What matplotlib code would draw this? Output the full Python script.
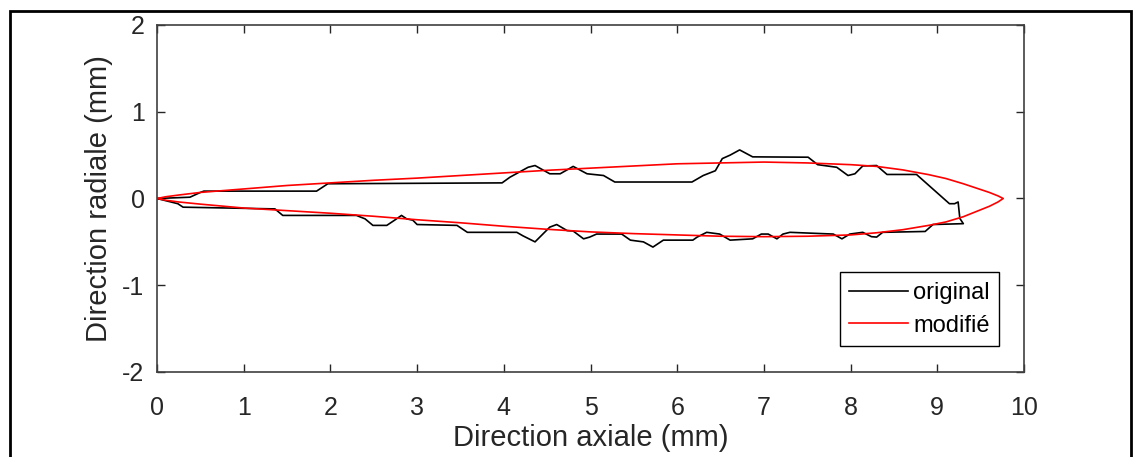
import matplotlib
matplotlib.use('Agg')
import matplotlib.pyplot as plt
from matplotlib.patches import Rectangle

plt.rcParams['font.family'] = ['Liberation Sans', 'DejaVu Sans']
plt.rcParams['axes.unicode_minus'] = False

# profil original (mesuré) : extrados de 0 vers la pointe, puis intrados retour
x_orig_haut = [0, 0.38, 0.50, 0.54, 1.84, 1.97, 3.98, 4.07, 4.28, 4.36, 4.53, 4.65,
               4.80, 4.96, 5.15, 5.28, 6.17, 6.30, 6.44, 6.52, 6.61, 6.72, 6.87,
               7.51, 7.62, 7.84, 7.97, 8.05, 8.14, 8.30, 8.42, 8.76, 9.14, 9.20,
               9.24, 9.26, 9.30]
y_orig_haut = [0, 0.015, 0.07, 0.085, 0.085, 0.17, 0.18, 0.245, 0.36, 0.38, 0.285, 0.285,
               0.37, 0.285, 0.265, 0.19, 0.19, 0.265, 0.32, 0.46, 0.50, 0.56, 0.48,
               0.476, 0.39, 0.36, 0.265, 0.285, 0.375, 0.38, 0.277, 0.277, -0.06, -0.06,
               -0.04, -0.23, -0.29]
x_orig_bas = [8.95, 8.86, 8.37, 8.30, 8.24, 8.14, 7.99, 7.90, 7.80, 7.30, 7.22, 7.15,
              7.05, 6.97, 6.87, 6.61, 6.49, 6.34, 6.23, 6.18, 5.84, 5.72, 5.61, 5.46,
              5.36, 5.07, 4.99, 4.92, 4.80, 4.73, 4.61, 4.53, 4.36, 4.22, 4.15, 3.58,
              3.46, 3.00, 2.95, 2.88, 2.82, 2.74, 2.65, 2.49, 2.40, 2.30, 1.45, 1.36,
              0.30, 0.24, 0]
y_orig_bas = [-0.30, -0.38, -0.39, -0.445, -0.44, -0.39, -0.41, -0.465, -0.41, -0.39, -0.41, -0.465,
              -0.41, -0.41, -0.465, -0.48, -0.41, -0.39, -0.445, -0.48, -0.48, -0.56, -0.50, -0.48,
              -0.41, -0.41, -0.445, -0.465, -0.375, -0.37, -0.30, -0.33, -0.50, -0.43, -0.39, -0.39,
              -0.31, -0.30, -0.25, -0.235, -0.195, -0.25, -0.31, -0.31, -0.235, -0.195, -0.195, -0.12,
              -0.10, -0.06, 0]

# profil modifié (lissé)
x_mod_haut = [0, 0.1, 0.25, 0.5, 0.75, 1.0, 1.5, 2.0, 2.5, 3.0, 3.5, 4.0, 4.5, 5.0, 5.5,
              6.0, 6.5, 7.0, 7.5, 8.0, 8.3, 8.6, 8.9, 9.1, 9.3, 9.45, 9.6, 9.7, 9.76]
y_mod_haut = [0, 0.02, 0.04, 0.07, 0.09, 0.11, 0.15, 0.18, 0.21, 0.235, 0.265, 0.295, 0.325, 0.35, 0.375,
              0.40, 0.41, 0.42, 0.41, 0.39, 0.37, 0.33, 0.275, 0.23, 0.17, 0.12, 0.07, 0.03, 0.0]
x_mod_bas = [9.7, 9.6, 9.45, 9.3, 9.1, 8.9, 8.6, 8.3, 8.0, 7.5, 7.0, 6.5, 6.0, 5.5, 5.0,
             4.5, 4.0, 3.5, 3.0, 2.5, 2.0, 1.5, 1.0, 0.5, 0.25, 0.1, 0]
y_mod_bas = [-0.04, -0.09, -0.15, -0.21, -0.27, -0.31, -0.36, -0.395, -0.42, -0.435, -0.44, -0.435, -0.42, -0.405, -0.385,
             -0.355, -0.32, -0.28, -0.245, -0.205, -0.17, -0.14, -0.11, -0.065, -0.04, -0.02, 0]

fig = plt.figure(figsize=(11.33, 4.57), dpi=100)
ax = fig.add_axes([0.1386, 0.186, 0.7652, 0.7593])

# cadre autour de la figure
fig.patches.append(Rectangle((0.0088, -0.1), 0.9894, 1.076, transform=fig.transFigure,
                             fill=False, edgecolor='black', linewidth=2, clip_on=False))

ax.plot(x_orig_haut + x_orig_bas, y_orig_haut + y_orig_bas, color='black', linewidth=1.2, label='original')
ax.plot(x_mod_haut + x_mod_bas, y_mod_haut + y_mod_bas, color='red', linewidth=1.2, label='modifié')

ax.set_xlim(0, 10)
ax.set_ylim(-2, 2)
ax.set_xticks(range(0, 11))
ax.set_yticks([-2, -1, 0, 1, 2])
ax.tick_params(direction='in', length=6, width=1, top=True, right=True,
               colors='#262626', labelsize=18)
ax.tick_params(axis='x', pad=17)
ax.tick_params(axis='y', pad=9)
for s in ax.spines.values():
    s.set_color('#404040')
    s.set_linewidth(1.2)

ax.set_xlabel('Direction axiale (mm)', fontsize=21, color='#262626', labelpad=3)
ax.set_ylabel('Direction radiale (mm)', fontsize=21, color='#262626', labelpad=7)

leg = ax.legend(loc='lower right', bbox_to_anchor=(0.9712, 0.0749), borderaxespad=0,
                fontsize=17, fancybox=False, edgecolor='black', framealpha=1,
                handlelength=2.5, handletextpad=0.2, labelspacing=0.45, borderpad=0.4)
leg.get_frame().set_linewidth(1.0)

plt.savefig('out.png', dpi=100)
